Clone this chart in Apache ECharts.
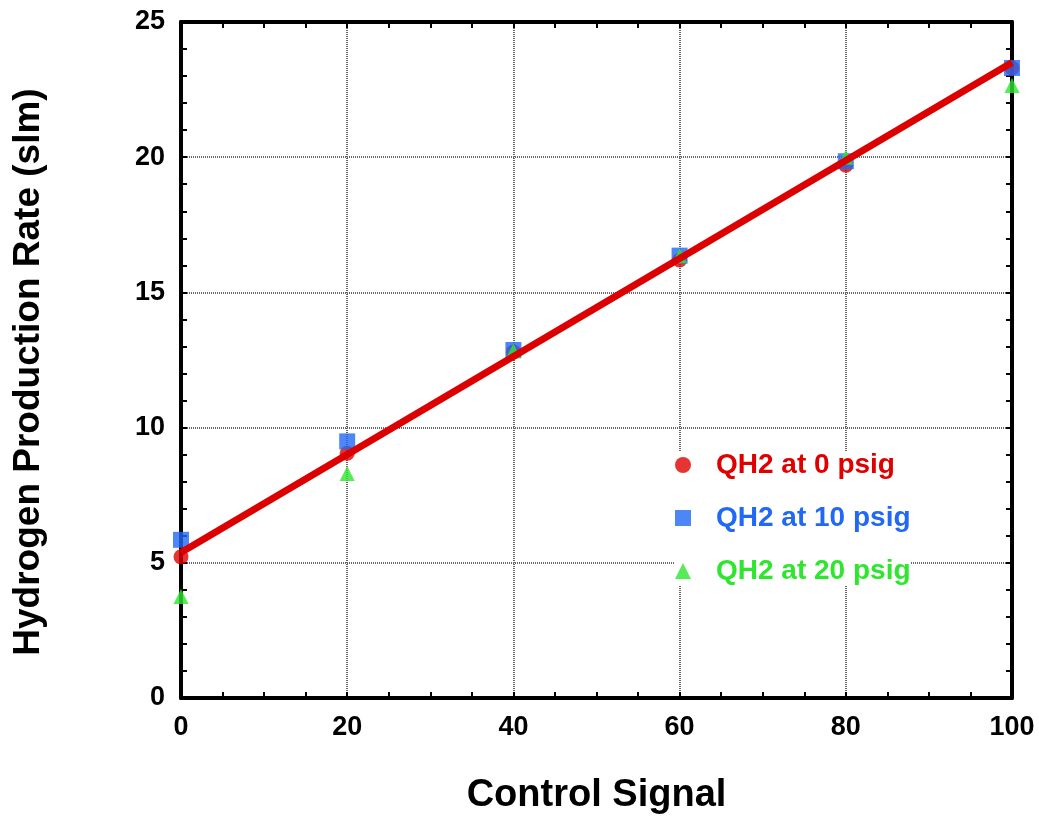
<!DOCTYPE html>
<html><head><meta charset="utf-8">
<script src="https://cdn.jsdelivr.net/npm/echarts@6/dist/echarts.min.js"></script>
<style>html,body{margin:0;padding:0;background:#fff}#c{width:1039px;height:820px}</style>
</head><body><div id="c"></div>
<script>
const xValues = [0, 20, 40, 60, 80, 100];
const q0psig = [5.22, 9.05, 12.8, 16.2, 19.7, 23.3];
const q10psig = [5.85, 9.49, 12.87, 16.36, 19.85, 23.3];
const q20psig = [3.75, 8.3, 12.83, 16.36, 20.0, 22.65];
const fitX = [0, 100];
const fitY = [5.38, 23.5];
const seriesNames = ['QH2 at 0 psig', 'QH2 at 10 psig', 'QH2 at 20 psig'];
const colors = ['#e00000', '#2068f5', '#2ee62e'];
const font = '"Liberation Sans", Arial, sans-serif';

const pair = (xs, ys) => xs.map((x, i) => [x, ys[i]]);

const chart = echarts.init(document.getElementById('c'), null, {renderer: 'canvas'});
const baseAxis = {
  axisLine: {show: true, onZero: false, lineStyle: {color: '#000', width: 4}},
  axisTick: {show: true, inside: true, length: 6, lineStyle: {color: '#000', width: 2}},
  minorTick: {show: true, length: 6, lineStyle: {color: '#000', width: 2}},
};
const gridLine = {show: true, lineStyle: {color: '#666', width: 2, type: [1, 1]}};
chart.setOption({
  animation: false,
  grid: {left: 181, right: 27, top: 22, bottom: 118},
  legend: {
    orient: 'vertical', left: 675, top: 451, itemGap: 25, itemWidth: 16, itemHeight: 16,
    data: seriesNames.map((n, i) => ({name: n, textStyle: {color: colors[i]}})),
    textStyle: {fontFamily: font, fontWeight: 'bold', fontSize: 28, padding: [0, 0, 0, 20]},
    backgroundColor: '#fff', padding: [0, 0, 0, 0]
  },
  xAxis: [
    Object.assign({}, baseAxis, {
      type: 'value', min: 0, max: 100, interval: 20, position: 'bottom',
      minorTick: Object.assign({}, baseAxis.minorTick, {splitNumber: 4}),
      axisLabel: {fontFamily: font, fontWeight: 'bold', fontSize: 27, color: '#000', margin: 16},
      splitLine: gridLine,
      name: 'Control Signal', nameLocation: 'middle', nameGap: 79,
      nameTextStyle: {fontFamily: font, fontWeight: 'bold', fontSize: 38, color: '#000'}
    }),
    Object.assign({}, baseAxis, {
      type: 'value', min: 0, max: 100, interval: 20, position: 'top',
      minorTick: Object.assign({}, baseAxis.minorTick, {splitNumber: 4}),
      axisLabel: {show: false}, splitLine: {show: false}
    })
  ],
  yAxis: [
    Object.assign({}, baseAxis, {
      type: 'value', min: 0, max: 25, interval: 5, position: 'left',
      minorTick: Object.assign({}, baseAxis.minorTick, {splitNumber: 5}),
      axisLabel: {fontFamily: font, fontWeight: 'bold', fontSize: 27, color: '#000', margin: 16},
      splitLine: gridLine,
      name: 'Hydrogen Production Rate (slm)', nameLocation: 'middle', nameGap: 134, nameRotate: 90,
      nameTextStyle: {fontFamily: font, fontWeight: 'bold', fontSize: 37, color: '#000', padding: [0, 24, 0, 0]}
    }),
    Object.assign({}, baseAxis, {
      type: 'value', min: 0, max: 25, interval: 5, position: 'right',
      minorTick: Object.assign({}, baseAxis.minorTick, {splitNumber: 5}),
      axisLabel: {show: false}, splitLine: {show: false}
    })
  ],
  series: [
    {name: seriesNames[0], type: 'scatter', symbol: 'circle', symbolSize: 15,
     itemStyle: {color: colors[0]}, data: pair(xValues, q0psig), z: 3, clip: false},
    {name: seriesNames[1], type: 'scatter', symbol: 'rect', symbolSize: 16,
     itemStyle: {color: colors[1]}, data: pair(xValues, q10psig), z: 4, clip: false},
    {name: seriesNames[2], type: 'scatter', symbol: 'triangle', symbolSize: 15,
     itemStyle: {color: colors[2]}, data: pair(xValues, q20psig), z: 5, clip: false},
    {name: 'fit', type: 'line', showSymbol: false, symbol: 'none',
     lineStyle: {color: '#dd0000', width: 7}, data: pair(fitX, fitY), z: 6, clip: false}
  ]
});
</script></body></html>
